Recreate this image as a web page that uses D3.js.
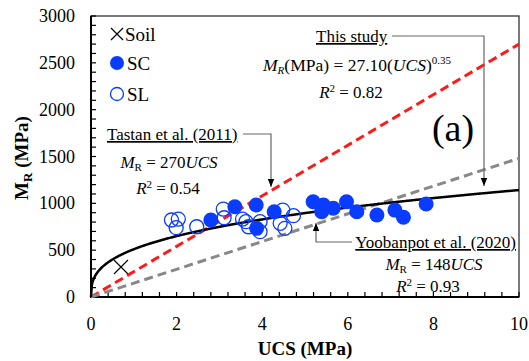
<!DOCTYPE html>
<html>
<head>
<meta charset="utf-8">
<script src="https://cdn.jsdelivr.net/npm/d3@7"></script>
<style>
  body { margin: 0; background: #fff; }
</style>
</head>
<body>
<div id="chart"></div>
<script>
// data
var scUcs = [2.80, 3.36, 3.86, 3.87, 4.28, 5.19, 5.43, 5.39, 5.66, 5.97, 6.21, 6.68, 7.10, 7.30, 7.83];
var scMr  = [822, 964, 982, 733, 910, 1017, 982, 910, 947, 1017, 910, 875, 928, 851, 993];
var slUcs = [1.88, 2.04, 1.99, 2.47, 3.09, 3.11, 3.54, 3.62, 3.68, 3.95, 3.95, 4.48, 4.42, 4.53, 4.73];
var slMr  = [822, 832, 740, 750, 939, 846, 832, 804, 750, 804, 697, 928, 787, 733, 868];
var soilUcs = [0.70];
var soilMr  = [320];
var xTicks = [0, 2, 4, 6, 8, 10];
var yTicks = [0, 500, 1000, 1500, 2000, 2500, 3000];

var margin = {left: 91, right: 10, top: 16, bottom: 64};
var width = 529, height = 361;

var svg = d3.select('#chart').append('svg')
    .attr('width', width)
    .attr('height', height)
    .attr('font-family', "'Liberation Serif', 'Times New Roman', 'DejaVu Serif', serif");

var x = d3.scaleLinear().domain([0, 10]).range([margin.left, 519]);
var y = d3.scaleLinear().domain([0, 3000]).range([297, margin.top]);

// frame
svg.append('rect')
    .attr('x', x(0)).attr('y', y(3000))
    .attr('width', x(10) - x(0)).attr('height', y(0) - y(3000))
    .attr('fill', 'none').attr('stroke', '#333').attr('stroke-width', 1.3);

// minor ticks (inward)
var g = svg.append('g');
d3.range(0, 3001, 100).forEach(function(v) {
    g.append('line')
        .attr('x1', x(0)).attr('x2', x(0) + 5)
        .attr('y1', y(v)).attr('y2', y(v))
        .attr('stroke', 'black').attr('stroke-width', 1.2);
});
d3.range(0, 10.01, 0.4).forEach(function(v) {
    g.append('line')
        .attr('x1', x(v)).attr('x2', x(v))
        .attr('y1', y(0)).attr('y2', y(0) - 5)
        .attr('stroke', 'black').attr('stroke-width', 1.2);
});
// heavier left and bottom axis
svg.append('path')
    .attr('d', 'M' + x(0) + ',' + y(3000) + 'V' + y(0) + 'H' + x(10))
    .attr('fill', 'none').attr('stroke', 'black').attr('stroke-width', 2);

// tick labels
yTicks.forEach(function(v) {
    svg.append('text')
        .attr('x', 75).attr('y', y(v) + 6)
        .attr('text-anchor', 'end')
        .attr('font-size', 18)
        .text(v);
});
xTicks.forEach(function(v) {
    svg.append('text')
        .attr('x', x(v)).attr('y', 330)
        .attr('text-anchor', 'middle')
        .attr('font-size', 18)
        .text(v);
});

// axis titles
svg.append('text')
    .attr('x', 305).attr('y', 355)
    .attr('text-anchor', 'middle')
    .attr('font-size', 19).attr('font-weight', 'bold')
    .text('UCS (MPa)');

var yt = svg.append('text')
    .attr('transform', 'translate(28,158) rotate(-90)')
    .attr('text-anchor', 'middle')
    .attr('font-size', 19).attr('font-weight', 'bold');
yt.append('tspan').text('M');
yt.append('tspan').attr('font-size', 13).attr('dy', 4).text('R');
yt.append('tspan').attr('dy', -4).text(' (MPa)');

// lines
var ln = d3.line().x(function(d) { return x(d[0]); }).y(function(d) { return y(d[1]); });

svg.append('path')
    .datum([[0, 0], [10, 270 * 10]])
    .attr('d', ln)
    .attr('stroke', '#ff1a1a').attr('stroke-width', 3)
    .attr('stroke-dasharray', '9,5').attr('fill', 'none');

svg.append('path')
    .datum([[0, 0], [10, 148 * 10]])
    .attr('d', ln)
    .attr('stroke', '#888').attr('stroke-width', 3)
    .attr('stroke-dasharray', '9,5').attr('fill', 'none');

var curve = d3.range(0, 10.001, 0.02).map(function(u) { return [u, 510 * Math.pow(u, 0.35)]; });
svg.append('path')
    .datum(curve)
    .attr('d', ln)
    .attr('stroke', 'black').attr('stroke-width', 2.5).attr('fill', 'none');

// points
var blue = '#0a3cff';
slUcs.forEach(function(u, i) {
    svg.append('circle')
        .attr('cx', x(u)).attr('cy', y(slMr[i])).attr('r', 7)
        .attr('fill', 'none').attr('stroke', blue).attr('stroke-width', 1.3);
});
scUcs.forEach(function(u, i) {
    svg.append('circle')
        .attr('cx', x(u)).attr('cy', y(scMr[i])).attr('r', 7.5)
        .attr('fill', blue);
});
soilUcs.forEach(function(u, i) {
    var cx = x(u), cy = y(soilMr[i]), s = 7;
    svg.append('path')
        .attr('d', 'M' + (cx - s) + ',' + (cy - s) + 'L' + (cx + s) + ',' + (cy + s) +
                   'M' + (cx - s) + ',' + (cy + s) + 'L' + (cx + s) + ',' + (cy - s))
        .attr('stroke', 'black').attr('stroke-width', 1.2);
});

// legend
var lx = 117;
svg.append('path')
    .attr('d', 'M' + (lx - 6) + ',28L' + (lx + 6) + ',40M' + (lx - 6) + ',40L' + (lx + 6) + ',28')
    .attr('stroke', 'black').attr('stroke-width', 1.2);
svg.append('text').attr('x', lx + 8).attr('y', 41).attr('font-size', 19).text('Soil');
svg.append('circle').attr('cx', lx).attr('cy', 63).attr('r', 7).attr('fill', blue);
svg.append('text').attr('x', lx + 10).attr('y', 70).attr('font-size', 19).text('SC');
svg.append('circle').attr('cx', lx).attr('cy', 94).attr('r', 6.5)
    .attr('fill', 'none').attr('stroke', blue).attr('stroke-width', 1.3);
svg.append('text').attr('x', lx + 10).attr('y', 101).attr('font-size', 19).text('SL');

// annotation helpers
svg.append('defs').append('marker')
    .attr('id', 'arr').attr('viewBox', '0 0 10 10')
    .attr('refX', 10).attr('refY', 5)
    .attr('markerWidth', 7).attr('markerHeight', 7)
    .attr('orient', 'auto-start-reverse')
    .append('path').attr('d', 'M0,1L10,5L0,9Z').attr('fill', 'black');

function leader(pts) {
    svg.append('path')
        .attr('d', d3.line()(pts))
        .attr('fill', 'none').attr('stroke', '#666').attr('stroke-width', 1.2)
        .attr('marker-end', 'url(#arr)');
}

function title(tx, ty, str, anchor) {
    svg.append('text')
        .attr('x', tx).attr('y', ty)
        .attr('text-anchor', anchor || 'start')
        .attr('font-size', 17)
        .attr('text-decoration', 'underline')
        .text(str);
}

function eqMR(cx, cy, coef) {
    var t = svg.append('text').attr('x', cx).attr('y', cy)
        .attr('text-anchor', 'middle').attr('font-size', 17);
    t.append('tspan').attr('font-style', 'italic').text('M');
    t.append('tspan').attr('font-size', 11).attr('dy', 3).text('R');
    t.append('tspan').attr('dy', -3).text(' = ' + coef);
    t.append('tspan').attr('font-style', 'italic').text('UCS');
}

function eqR2(cx, cy, val) {
    var t = svg.append('text').attr('x', cx).attr('y', cy)
        .attr('text-anchor', 'middle').attr('font-size', 17);
    t.append('tspan').attr('font-style', 'italic').text('R');
    t.append('tspan').attr('font-size', 11).attr('dy', -6).text('2');
    t.append('tspan').attr('dy', 6).text(' = ' + val);
}

// This study
title(316, 42, 'This study');
leader([[392, 36], [484, 36], [484, 186]]);
var e1 = svg.append('text').attr('x', 357).attr('y', 71)
    .attr('text-anchor', 'middle').attr('font-size', 17.5);
e1.append('tspan').attr('font-style', 'italic').text('M');
e1.append('tspan').attr('font-style', 'italic').attr('font-size', 11).attr('dy', 3).text('R');
e1.append('tspan').attr('dy', -3).text('(MPa) = 27.10(');
e1.append('tspan').attr('font-style', 'italic').text('UCS');
e1.append('tspan').text(')');
e1.append('tspan').attr('font-size', 11).attr('dy', -7).text('0.35');
eqR2(351, 98, '0.82');

svg.append('text')
    .attr('x', 453).attr('y', 141)
    .attr('text-anchor', 'middle').attr('font-size', 38)
    .text('(a)');

// Tastan et al.
title(107, 140, 'Tastan et al. (2011)');
leader([[243, 134], [271, 134], [271, 187]]);
eqMR(169, 168, '270');
eqR2(168, 194, '0.54');

// Yoobanpot et al.
title(516, 248, 'Yoobanpot et al. (2020)', 'end');
leader([[352, 242], [316, 242], [316, 223]]);
eqMR(434, 270, '148');
eqR2(428, 292, '0.93');
</script>
</body>
</html>
